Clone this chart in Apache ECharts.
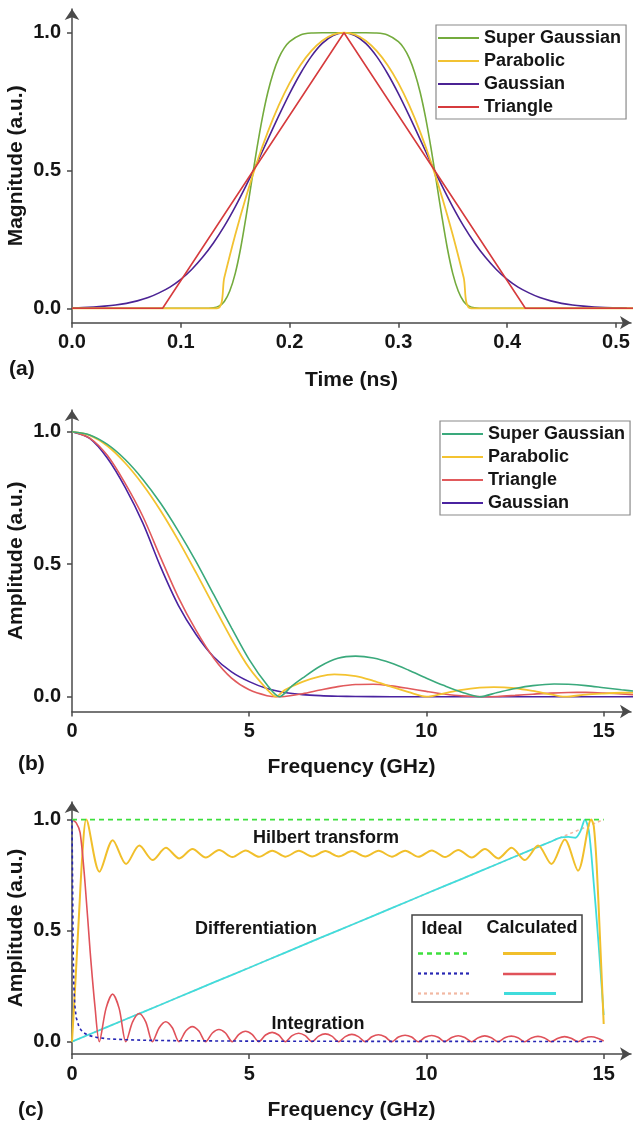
<!DOCTYPE html>
<html><head><meta charset="utf-8">
<script src="https://cdn.jsdelivr.net/npm/echarts@6/dist/echarts.min.js"></script>
<style>html,body{margin:0;padding:0;background:#fff}#c{width:637px;height:1129px}</style>
</head><body><div id="c"></div>
<script>
// ===== Tick labels =====
const aTimeTicks = [0, 0.1, 0.2, 0.3, 0.4, 0.5];
const ampTicks = [0, 0.5, 1.0];
const freqTicks = [0, 5, 10, 15];

// ===== Panel (a): time-domain pulses =====
const aGaussT = [0,0.01,0.02,0.03,0.04,0.05,0.06,0.07,0.08,0.09,0.10,0.11,0.12,0.13,0.14,0.15,0.16,0.17,0.18,0.19,0.20,0.21,0.22,0.23,0.24,0.25,0.26,0.27,0.28,0.29,0.30,0.31,0.32,0.33,0.34,0.35,0.36,0.37,0.38,0.39,0.40,0.41,0.42,0.43,0.44,0.45,0.46,0.47,0.48,0.49,0.50,0.51];
const aGaussY = [0.002,0.003,0.005,0.008,0.012,0.018,0.027,0.039,0.056,0.077,0.105,0.141,0.185,0.237,0.298,0.368,0.445,0.527,0.613,0.698,0.779,0.852,0.914,0.961,0.990,1.000,0.990,0.961,0.914,0.852,0.779,0.698,0.613,0.527,0.445,0.368,0.298,0.237,0.185,0.141,0.105,0.077,0.056,0.039,0.027,0.018,0.012,0.008,0.005,0.003,0.002,0.001];
const aSgT = [0,0.12,0.13,0.135,0.14,0.145,0.15,0.155,0.16,0.165,0.17,0.175,0.18,0.185,0.19,0.195,0.20,0.21,0.22,0.23,0.25,0.27,0.28,0.29,0.30,0.305,0.31,0.315,0.32,0.325,0.33,0.335,0.34,0.345,0.35,0.355,0.36,0.365,0.37,0.38,0.52];
const aSgY = [0,0,0.002,0.008,0.025,0.063,0.126,0.218,0.333,0.458,0.581,0.692,0.784,0.855,0.908,0.944,0.968,0.992,0.999,1,1,1,0.999,0.992,0.968,0.944,0.908,0.855,0.784,0.692,0.581,0.458,0.333,0.218,0.126,0.063,0.025,0.008,0.002,0,0];
const aParT = [0,0.1333,0.14,0.15,0.16,0.17,0.18,0.19,0.20,0.21,0.22,0.23,0.24,0.25,0.26,0.27,0.28,0.29,0.30,0.31,0.32,0.33,0.34,0.35,0.36,0.3667,0.52];
const aParY = [0,0,0.112,0.266,0.405,0.530,0.640,0.736,0.817,0.883,0.934,0.971,0.993,1,0.993,0.971,0.934,0.883,0.817,0.736,0.640,0.530,0.405,0.266,0.112,0,0];
const aTriT = [0,0.0833,0.25,0.4167,0.52];
const aTriY = [0,0,1,0,0];

// ===== Panel (b): spectra =====
const bSgF = [0,0.5,1,1.5,2,2.5,3,3.5,4,4.5,5,5.5,5.85,6.2,6.5,7,7.5,8,8.5,9,9.5,10,10.5,11,11.5,12,12.5,13,13.6,14,14.5,15,15.5,16];
const bSgY = [1,0.988,0.952,0.895,0.82,0.73,0.625,0.51,0.385,0.26,0.14,0.045,0,0.04,0.07,0.115,0.145,0.153,0.146,0.127,0.1,0.07,0.042,0.017,0,0.016,0.031,0.042,0.048,0.047,0.042,0.034,0.026,0.019];
const bParF = [0,0.5,1,1.5,2,2.5,3,3.5,4,4.5,5,5.5,5.75,6,6.5,7,7.4,8,8.5,9,9.5,10,10.5,11,11.5,11.9,12.5,13,13.5,13.9,14.5,15,15.5,16];
const bParY = [1,0.986,0.946,0.882,0.80,0.702,0.59,0.468,0.342,0.218,0.108,0.028,0,0.025,0.056,0.077,0.084,0.078,0.06,0.038,0.017,0,0.013,0.026,0.034,0.036,0.032,0.022,0.009,0,0.008,0.012,0.015,0.016];
const bTriF = [0,0.5,1,1.5,2,2.5,3,3.5,4,4.5,5,5.5,5.8,6,6.5,7,7.5,8,8.5,9,9.5,10,10.5,11,11.6,12,12.5,13,13.5,14,14.5,15,15.5,16];
const bTriY = [1,0.976,0.91,0.805,0.68,0.525,0.375,0.25,0.145,0.07,0.026,0.004,0,0.001,0.011,0.025,0.038,0.046,0.047,0.041,0.031,0.02,0.01,0.003,0,0.001,0.005,0.0095,0.0137,0.0161,0.0162,0.0141,0.0104,0.0063];
const bGaussF = [0,0.5,1,1.5,2,2.5,3,3.5,4,4.5,5,5.5,6,6.5,7,7.5,8,9,10,16];
const bGaussY = [1,0.975,0.9,0.79,0.655,0.49,0.345,0.235,0.15,0.094,0.057,0.031,0.016,0.008,0.004,0.002,0.001,0,0,0];

// ===== Panel (c): ideal vs calculated responses =====
const cHilIdealF = [0, 15];
const cHilIdealY = [1, 1];
const cIntIdealF = [0,0.013,0.02,0.03,0.05,0.08,0.12,0.2,0.3,0.45,0.7,1,1.5,2,3,5,8,12,15];
const cIntIdealY = [1,1,0.65,0.43,0.26,0.163,0.108,0.065,0.043,0.029,0.019,0.013,0.009,0.0065,0.0043,0.0026,0.0016,0.0011,0.0009];
const cDifIdealF = [0, 15];
const cDifIdealY = [0, 1];
const cHilF = [0,0.1,0.2,0.3,0.4,0.775,1.15,1.525,1.9,2.275,2.65,3.025,3.4,3.775,4.15,4.525,4.9,5.275,5.65,6.025,6.4,6.775,7.15,7.525,7.9,8.275,8.65,9.025,9.4,9.775,10.15,10.525,10.9,11.275,11.65,12.025,12.4,12.775,13.15,13.525,13.9,14.275,14.65,14.72,14.8,14.9,15];
const cHilY = [0,0.28,0.58,0.86,1.0,0.765,0.907,0.80,0.883,0.818,0.873,0.825,0.867,0.829,0.863,0.831,0.861,0.832,0.86,0.833,0.859,0.834,0.858,0.834,0.858,0.834,0.859,0.833,0.86,0.832,0.861,0.831,0.863,0.829,0.867,0.825,0.873,0.818,0.883,0.80,0.91,0.77,1.0,0.97,0.8,0.45,0.08];
const cIntF = [0,0.12,0.23,0.37,0.51,0.65,0.77,
  0.96,1.145,1.33,1.52, 1.71,1.895,2.08,2.27, 2.46,2.645,2.83,3.02, 3.21,3.395,3.58,3.77,
  3.96,4.145,4.33,4.52, 4.71,4.895,5.08,5.27, 5.46,5.645,5.83,6.02, 6.21,6.395,6.58,6.77,
  6.96,7.145,7.33,7.52, 7.71,7.895,8.08,8.27, 8.46,8.645,8.83,9.02, 9.21,9.395,9.58,9.77,
  9.96,10.145,10.33,10.52, 10.71,10.895,11.08,11.27, 11.46,11.645,11.83,12.02, 12.21,12.395,12.58,12.77,
  12.96,13.145,13.33,13.52, 13.71,13.895,14.08,14.27, 14.46,14.645,14.83,15.0];
const cIntY = [1,0.985,0.94,0.71,0.41,0.155,0,
  0.15,0.214,0.15,0, 0.089,0.127,0.089,0, 0.063,0.09,0.063,0, 0.048,0.068,0.048,0,
  0.039,0.055,0.039,0, 0.033,0.047,0.033,0, 0.03,0.042,0.03,0, 0.027,0.038,0.027,0,
  0.025,0.035,0.025,0, 0.023,0.033,0.023,0, 0.022,0.031,0.022,0, 0.021,0.029,0.021,0,
  0.02,0.028,0.02,0, 0.019,0.027,0.019,0, 0.018,0.026,0.018,0, 0.018,0.025,0.018,0,
  0.017,0.024,0.017,0, 0.016,0.023,0.016,0, 0.016,0.022,0.016,0.003];
const cDifF = [0,1,2,3,4,5,6,7,8,9,10,11,12,13,13.5,13.8,14,14.2,14.35,14.47,14.58,14.7,14.85,15];
const cDifY = [0,0.067,0.133,0.2,0.267,0.333,0.4,0.467,0.533,0.6,0.667,0.733,0.8,0.867,0.9,0.92,0.922,0.918,0.95,1.0,0.95,0.75,0.45,0.12];

// ===== build =====
const zip = (xs, ys) => xs.map((x, i) => [x, ys[i]]);
const FONT = 'Arial, "Liberation Sans", Helvetica, sans-serif';
const TXT = '#151515';
const AX = {color: '#4a4a4a', width: 1.5};

function xAx(gi, max, ticks, fmt, name, gap) {
  return {
    type: 'value', gridIndex: gi, min: 0, max: max,
    name: name, nameLocation: 'middle', nameGap: gap, nameMoveOverlap: false,
    nameTextStyle: {fontFamily: FONT, fontWeight: 'bold', fontSize: 21, color: TXT},
    axisLine: {show: true, onZero: false, symbol: ['none', 'arrow'], symbolSize: [10, 11], lineStyle: AX},
    axisTick: {show: true, length: 5, customValues: ticks, lineStyle: AX},
    axisLabel: {show: true, customValues: ticks, formatter: fmt, margin: 10,
      fontFamily: FONT, fontWeight: 'bold', fontSize: 20, color: TXT},
    splitLine: {show: false}
  };
}
function yAx(gi, min, max, name) {
  return {
    type: 'value', gridIndex: gi, min: min, max: max,
    name: name, nameLocation: 'middle', nameGap: 45, nameMoveOverlap: false,
    nameTextStyle: {fontFamily: FONT, fontWeight: 'bold', fontSize: 21, color: TXT},
    axisLine: {show: true, onZero: false, symbol: ['none', 'arrow'], symbolSize: [11, 11], lineStyle: AX},
    axisTick: {show: true, length: 5, customValues: ampTicks, lineStyle: AX},
    axisLabel: {show: true, customValues: ampTicks, formatter: v => v.toFixed(1), margin: 11,
      fontFamily: FONT, fontWeight: 'bold', fontSize: 20, color: TXT},
    splitLine: {show: false}
  };
}
function line(name, gi, xs, ys, color, width, extra) {
  return Object.assign({
    type: 'line', name: name, xAxisIndex: gi, yAxisIndex: gi,
    data: zip(xs, ys), symbol: 'none', showSymbol: false, smooth: 0.3,
    lineStyle: {color: color, width: width}, itemStyle: {color: color},
    silent: true, animation: false
  }, extra || {});
}
function legend(left, top, names) {
  return {
    orient: 'vertical', left: left, top: top, data: names,
    icon: 'rect', padding: [4, 5, 3, 2], itemWidth: 41, itemHeight: 2, itemGap: 5,
    borderColor: '#8a8a8a', borderWidth: 1.2, backgroundColor: '#fff',
    formatter: n => n.replace(/\s+$/, ''),
    textStyle: {fontFamily: FONT, fontWeight: 'bold', fontSize: 18, color: TXT},
    selectedMode: false
  };
}

const C = {
  aSg: '#74ab3d', aPar: '#f2c232', aGauss: '#4b2394', aTri: '#d63b3d',
  bSg: '#3aa97c', bPar: '#f4c330', bTri: '#e15a5c', bGauss: '#4a23a0',
  cHil: '#f1bf2b', cInt: '#e0525a', cDif: '#40dcdc',
  iHil: '#3ddf3d', iInt: '#2626b4', iDif: '#f2b8a2'
};

const G = {containLabel: false, outerBoundsMode: 'none'};
const option = {
  animation: false,
  backgroundColor: '#fff',
  grid: [
    Object.assign({left: 72, top: 9, width: 559, height: 313.7}, G),
    Object.assign({left: 72, top: 410, width: 559, height: 301.5}, G),
    Object.assign({left: 72, top: 802, width: 559, height: 252}, G)
  ],
  xAxis: [
    xAx(0, 0.5138, aTimeTicks, v => v.toFixed(1), 'Time (ns)', 47),
    xAx(1, 15.77, freqTicks, v => String(v), 'Frequency (GHz)', 45),
    xAx(2, 15.77, freqTicks, v => String(v), 'Frequency (GHz)', 46)
  ],
  yAxis: [
    yAx(0, -0.0522, 1.086, 'Magnitude (a.u.)'),
    yAx(1, -0.0558, 1.082, 'Amplitude (a.u.)'),
    yAx(2, -0.0554, 1.079, 'Amplitude (a.u.)')
  ],
  legend: [
    legend(436, 25, ['Super Gaussian', 'Parabolic', 'Gaussian', 'Triangle']),
    legend(440, 421, ['Super Gaussian ', 'Parabolic ', 'Triangle ', 'Gaussian '])
  ],
  series: [
    line('Gaussian', 0, aGaussT, aGaussY, C.aGauss, 1.6),
    line('Super Gaussian', 0, aSgT, aSgY, C.aSg, 1.6),
    line('Parabolic', 0, aParT, aParY, C.aPar, 1.8),
    line('Triangle', 0, aTriT, aTriY, C.aTri, 1.6, {smooth: false}),

    line('Gaussian ', 1, bGaussF, bGaussY, C.bGauss, 1.6),
    line('Triangle ', 1, bTriF, bTriY, C.bTri, 1.6),
    line('Parabolic ', 1, bParF, bParY, C.bPar, 1.8),
    line('Super Gaussian ', 1, bSgF, bSgY, C.bSg, 1.6),

    line('Differentiation ideal', 2, cDifIdealF, cDifIdealY, C.iDif, 1.6, {smooth: false, lineStyle: {color: C.iDif, width: 1.6, type: [3, 3]}}),
    line('Differentiation', 2, cDifF, cDifY, C.cDif, 1.8),
    line('Hilbert', 2, cHilF, cHilY, C.cHil, 2),
    line('Integration', 2, cIntF, cIntY, C.cInt, 1.6),
    line('Integration ideal', 2, cIntIdealF, cIntIdealY, C.iInt, 1.6, {smooth: false, lineStyle: {color: C.iInt, width: 1.6, type: [3, 3]}}),
    line('Hilbert ideal', 2, cHilIdealF, cHilIdealY, C.iHil, 1.6, {smooth: false, lineStyle: {color: C.iHil, width: 1.8, type: [5, 4]}})
  ],
  graphic: [
    {type: 'text', x: 9, y: 369, style: {text: '(a)', font: 'bold 21px ' + FONT, fill: TXT, verticalAlign: 'middle'}},
    {type: 'text', x: 18, y: 764, style: {text: '(b)', font: 'bold 21px ' + FONT, fill: TXT, verticalAlign: 'middle'}},
    {type: 'text', x: 18, y: 1110, style: {text: '(c)', font: 'bold 21px ' + FONT, fill: TXT, verticalAlign: 'middle'}},
    {type: 'text', x: 326, y: 838, style: {text: 'Hilbert transform', font: 'bold 18px ' + FONT, fill: TXT, align: 'center', verticalAlign: 'middle'}},
    {type: 'text', x: 256, y: 929, style: {text: 'Differentiation', font: 'bold 18px ' + FONT, fill: TXT, align: 'center', verticalAlign: 'middle'}},
    {type: 'text', x: 318, y: 1024, style: {text: 'Integration', font: 'bold 18px ' + FONT, fill: TXT, align: 'center', verticalAlign: 'middle'}},
    {type: 'rect', shape: {x: 412, y: 915, width: 170, height: 87}, style: {fill: '#fff', stroke: '#444', lineWidth: 1.5}},
    {type: 'text', x: 442, y: 929, style: {text: 'Ideal', font: 'bold 18px ' + FONT, fill: TXT, align: 'center', verticalAlign: 'middle'}},
    {type: 'text', x: 532, y: 928, style: {text: 'Calculated', font: 'bold 18px ' + FONT, fill: TXT, align: 'center', verticalAlign: 'middle'}},
    {type: 'line', shape: {x1: 418, y1: 953.5, x2: 467, y2: 953.5}, style: {stroke: C.iHil, lineWidth: 2.5, lineDash: [5, 4]}},
    {type: 'line', shape: {x1: 418, y1: 973.5, x2: 472, y2: 973.5}, style: {stroke: C.iInt, lineWidth: 2.2, lineDash: [3, 3]}},
    {type: 'line', shape: {x1: 418, y1: 993.5, x2: 472, y2: 993.5}, style: {stroke: C.iDif, lineWidth: 2.2, lineDash: [3, 3]}},
    {type: 'line', shape: {x1: 503, y1: 953.5, x2: 556, y2: 953.5}, style: {stroke: C.cHil, lineWidth: 3}},
    {type: 'line', shape: {x1: 503, y1: 974, x2: 556, y2: 974}, style: {stroke: C.cInt, lineWidth: 2.5}},
    {type: 'line', shape: {x1: 504, y1: 993.5, x2: 556, y2: 993.5}, style: {stroke: C.cDif, lineWidth: 3}}
  ]
};

const chart = echarts.init(document.getElementById('c'), null, {renderer: 'canvas'});
chart.setOption(option);
</script>
</body></html>
